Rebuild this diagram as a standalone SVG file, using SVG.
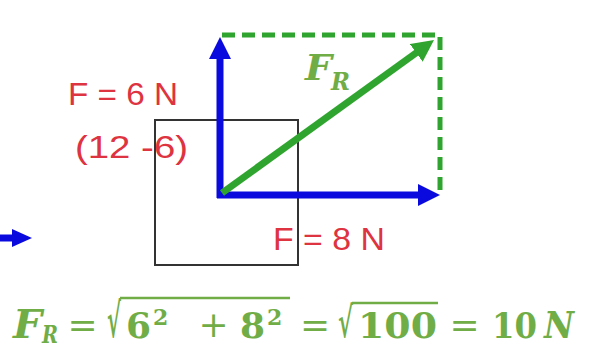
<svg xmlns="http://www.w3.org/2000/svg" width="592" height="349" viewBox="0 0 592 349">
<style>
.red{fill:#DE3340;font-family:"Liberation Sans",Arial,sans-serif;font-size:32px}
.eq{fill:#70AD47;font-family:"DejaVu Serif",serif;font-weight:bold}
.op{font-weight:normal}
.it{font-style:italic}
.blue{stroke:#0A0ADF;stroke-width:7;fill:none}
.green{stroke:#2FA52F;stroke-width:7;fill:none}
.dash{stroke:#2FA52F;stroke-width:5;fill:none;stroke-dasharray:13 7}
.vinc{stroke:#70AD47;stroke-width:2.5}
</style>
<defs>
<marker id="hb" markerUnits="userSpaceOnUse" markerWidth="22" markerHeight="22" refX="10" refY="11" orient="auto"><path d="M0,0 L22,11 L0,22 z" fill="#0A0ADF"/></marker>
<marker id="hbs" markerUnits="userSpaceOnUse" markerWidth="20" markerHeight="20" refX="8" refY="9" orient="auto"><path d="M0,0 L20,9 L0,18 z" fill="#0A0ADF"/></marker>
<marker id="hg" markerUnits="userSpaceOnUse" markerWidth="22" markerHeight="22" refX="10" refY="11" orient="auto"><path d="M0,0 L22,11 L0,22 z" fill="#2FA52F"/></marker>
</defs>
<rect width="592" height="349" fill="#ffffff"/>
<g id="label-f6">
<text class="red" x="68" y="105" textLength="110" lengthAdjust="spacingAndGlyphs">F = 6 N</text>
<text class="red" x="75" y="158" textLength="113" lengthAdjust="spacingAndGlyphs">(12 -6)</text>
</g>
<g id="label-f8">
<text class="red" x="273" y="250" textLength="112" lengthAdjust="spacingAndGlyphs">F = 8 N</text>
</g>
<g id="box">
<rect x="155" y="120" width="143" height="145" fill="none" stroke="#333333" stroke-width="2"/>
</g>
<g id="connectors">
<path class="dash" d="M222,35 H440 V195"/>
<line class="blue" x1="220" y1="198" x2="220" y2="49" marker-end="url(#hb)"/>
<line class="blue" x1="217" y1="195" x2="428" y2="195" marker-end="url(#hb)"/>
<line class="green" x1="222" y1="193" x2="424.3" y2="47" marker-end="url(#hg)"/>
<line class="blue" x1="0" y1="238" x2="20" y2="238" stroke-width="6" marker-end="url(#hbs)"/>
</g>
<g id="label-fr">
<text class="eq it" x="305" y="80" font-size="35" fill="#66A83C" textLength="27" lengthAdjust="spacingAndGlyphs">F</text>
<text class="eq it" x="331" y="90" font-size="25" fill="#66A83C" textLength="19" lengthAdjust="spacingAndGlyphs">R</text>
</g>
<g id="equation">
<text class="eq it" x="13" y="338" font-size="40" textLength="29" lengthAdjust="spacingAndGlyphs">F</text>
<text class="eq it" x="42" y="343" font-size="25" textLength="16" lengthAdjust="spacingAndGlyphs">R</text>
<text class="eq op" x="82.5" y="337" font-size="36" text-anchor="middle">=</text>
<text class="eq" x="107" y="337" font-size="47" textLength="14" lengthAdjust="spacingAndGlyphs">√</text>
<line class="vinc" x1="120" y1="298" x2="290" y2="298"/>
<text class="eq" x="126" y="338" font-size="36">6</text>
<text class="eq" x="153" y="325" font-size="22">2</text>
<text class="eq op" x="213.5" y="337" font-size="36" text-anchor="middle">+</text>
<text class="eq" x="240" y="338" font-size="36">8</text>
<text class="eq" x="267" y="325" font-size="22">2</text>
<text class="eq op" x="315" y="337" font-size="36" text-anchor="middle">=</text>
<text class="eq" x="338" y="337" font-size="42" textLength="15" lengthAdjust="spacingAndGlyphs">√</text>
<line class="vinc" x1="352" y1="303" x2="438" y2="303"/>
<text class="eq" x="358" y="338" font-size="36" textLength="79" lengthAdjust="spacingAndGlyphs">100</text>
<text class="eq op" x="464.5" y="337" font-size="36" text-anchor="middle">=</text>
<text class="eq" x="492" y="338" font-size="36" textLength="45" lengthAdjust="spacingAndGlyphs">10</text>
<text class="eq it" x="544" y="338" font-size="38" textLength="30" lengthAdjust="spacingAndGlyphs">N</text>
</g>
</svg>
